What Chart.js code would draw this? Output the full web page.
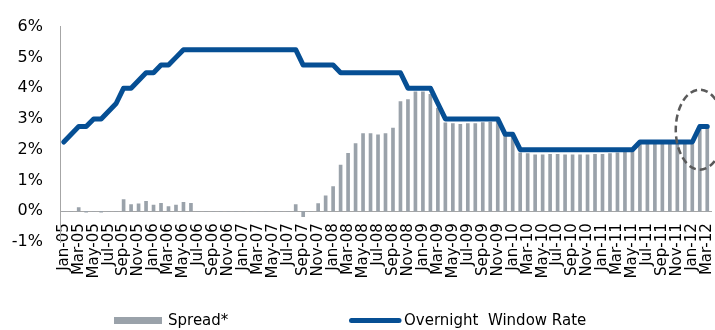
<!DOCTYPE html>
<html>
<head>
<meta charset="utf-8">
<script src="https://cdn.jsdelivr.net/npm/chart.js@4/dist/chart.umd.min.js"></script>
<style>
  html, body { margin: 0; padding: 0; background: #ffffff; }
  #wrap { width: 715px; height: 330px; }
</style>
</head>
<body>
<div id="wrap"><canvas id="chart" width="715" height="330"></canvas></div>
<script>
// Monthly categories, Jan-05 .. Mar-12
const months = [
  'Jan-05','Feb-05','Mar-05','Apr-05','May-05','Jun-05','Jul-05','Aug-05','Sep-05','Oct-05','Nov-05','Dec-05',
  'Jan-06','Feb-06','Mar-06','Apr-06','May-06','Jun-06','Jul-06','Aug-06','Sep-06','Oct-06','Nov-06','Dec-06',
  'Jan-07','Feb-07','Mar-07','Apr-07','May-07','Jun-07','Jul-07','Aug-07','Sep-07','Oct-07','Nov-07','Dec-07',
  'Jan-08','Feb-08','Mar-08','Apr-08','May-08','Jun-08','Jul-08','Aug-08','Sep-08','Oct-08','Nov-08','Dec-08',
  'Jan-09','Feb-09','Mar-09','Apr-09','May-09','Jun-09','Jul-09','Aug-09','Sep-09','Oct-09','Nov-09','Dec-09',
  'Jan-10','Feb-10','Mar-10','Apr-10','May-10','Jun-10','Jul-10','Aug-10','Sep-10','Oct-10','Nov-10','Dec-10',
  'Jan-11','Feb-11','Mar-11','Apr-11','May-11','Jun-11','Jul-11','Aug-11','Sep-11','Oct-11','Nov-11','Dec-11',
  'Jan-12','Feb-12','Mar-12'
];

// Spread*, percent
const spread = [
  0, 0, 0.12, -0.03, 0, -0.03, 0, 0, 0.38, 0.22, 0.24, 0.32,
  0.20, 0.26, 0.15, 0.20, 0.29, 0.26, 0, 0, 0, 0, 0, 0,
  0, 0, 0, 0, 0, 0, 0, 0.22, -0.18, 0, 0.25, 0.50,
  0.80, 1.50, 1.88, 2.20, 2.52, 2.52, 2.48, 2.52, 2.70, 3.56, 3.63, 3.88,
  3.88, 3.80, 3.35, 2.87, 2.85, 2.82, 2.85, 2.85, 2.88, 2.90, 2.92, 2.46,
  2.42, 1.90, 1.87, 1.83, 1.83, 1.85, 1.85, 1.83, 1.83, 1.83, 1.83, 1.85,
  1.85, 1.87, 1.90, 1.93, 1.95, 2.19, 2.19, 2.19, 2.19, 2.19, 2.19, 2.19,
  2.19, 2.69, 2.69
];

// Overnight Window Rate, percent
const overnightRate = [
  2.25, 2.50, 2.75, 2.75, 3.00, 3.00, 3.25, 3.50, 4.00, 4.00, 4.25, 4.50,
  4.50, 4.75, 4.75, 5.00, 5.25, 5.25, 5.25, 5.25, 5.25, 5.25, 5.25, 5.25,
  5.25, 5.25, 5.25, 5.25, 5.25, 5.25, 5.25, 5.25, 4.75, 4.75, 4.75, 4.75,
  4.75, 4.50, 4.50, 4.50, 4.50, 4.50, 4.50, 4.50, 4.50, 4.50, 4.00, 4.00,
  4.00, 4.00, 3.50, 3.00, 3.00, 3.00, 3.00, 3.00, 3.00, 3.00, 3.00, 2.50,
  2.50, 2.00, 2.00, 2.00, 2.00, 2.00, 2.00, 2.00, 2.00, 2.00, 2.00, 2.00,
  2.00, 2.00, 2.00, 2.00, 2.00, 2.25, 2.25, 2.25, 2.25, 2.25, 2.25, 2.25,
  2.25, 2.75, 2.75
];

// Value axis range and step, percent
const yRange = [-1, 6];
const yStep = 1;

// Series names
const seriesNames = ['Spread*', 'Overnight  Window Rate'];

// Highlighted point (month, value) circled with a dashed ring
const highlightMonth = 'Feb-12';
const highlightValue = 2.65;

const BAR_COLOR = '#9aa2aa';
const LINE_COLOR = '#064f94';
const AXIS_COLOR = '#a6a6a6';
const FONT = 'DejaVu Sans';

Chart.defaults.font.family = FONT;
Chart.defaults.color = '#000000';

// Dashed ellipse around the latest rate move
const ringPlugin = {
  id: 'ring',
  afterDraw(chart, args, opts) {
    const xs = chart.scales.x, ys = chart.scales.y;
    const cx = xs.getPixelForValue(months.indexOf(opts.month));
    const cy = ys.getPixelForValue(opts.value);
    const ctx = chart.ctx;
    ctx.save();
    ctx.beginPath();
    ctx.ellipse(cx, cy, opts.rx, opts.ry, 0, 0, Math.PI * 2);
    ctx.setLineDash(opts.dash);
    ctx.lineWidth = opts.width;
    ctx.strokeStyle = opts.color;
    ctx.stroke();
    ctx.restore();
  }
};

// Key drawn beneath the axis labels
const keyPlugin = {
  id: 'key',
  afterDraw(chart, args, opts) {
    const ctx = chart.ctx;
    const y = opts.y;
    ctx.save();
    ctx.font = '15px "' + FONT + '"';
    ctx.textBaseline = 'middle';
    ctx.textAlign = 'left';

    // bar series swatch
    ctx.fillStyle = chart.data.datasets[0].backgroundColor;
    ctx.fillRect(opts.barX, y - 3.5, 48, 7);
    ctx.fillStyle = '#000000';
    ctx.fillText(chart.data.datasets[0].label, opts.barX + 54, y + 0.5);

    // line series swatch
    ctx.beginPath();
    ctx.moveTo(opts.lineX + 2.5, y);
    ctx.lineTo(opts.lineX + 50, y);
    ctx.lineWidth = 5;
    ctx.lineCap = 'round';
    ctx.strokeStyle = chart.data.datasets[1].borderColor;
    ctx.stroke();
    ctx.fillText(chart.data.datasets[1].label, opts.lineX + 55, y + 0.5);
    ctx.restore();
  }
};

new Chart(document.getElementById('chart'), {
  type: 'bar',
  data: {
    labels: months,
    datasets: [
      {
        type: 'bar',
        label: seriesNames[0],
        data: spread,
        backgroundColor: BAR_COLOR,
        barThickness: 3,
        order: 2
      },
      {
        type: 'line',
        label: seriesNames[1],
        data: overnightRate,
        borderColor: LINE_COLOR,
        backgroundColor: LINE_COLOR,
        borderWidth: 5,
        pointRadius: 0,
        tension: 0,
        borderCapStyle: 'round',
        borderJoinStyle: 'round',
        fill: false,
        order: 1
      }
    ]
  },
  options: {
    responsive: false,
    animation: false,
    devicePixelRatio: 1,
    layout: { padding: { top: 20, right: 4, left: 0, bottom: 88 } },
    plugins: {
      legend: { display: false },
      tooltip: { enabled: false },
      ring: { month: highlightMonth, value: highlightValue, rx: 24, ry: 40, dash: [7, 4], width: 2.5, color: '#5a5a5a' },
      key: { y: 320.5, barX: 114, lineX: 349 }
    },
    scales: {
      x: {
        position: { y: 0 },
        offset: true,
        grid: { display: false, drawTicks: false },
        border: { display: true, color: AXIS_COLOR, width: 1 },
        ticks: {
          autoSkip: false,
          minRotation: 90,
          maxRotation: 90,
          padding: 12,
          font: { size: 15 },
          color: '#000000',
          callback: (v, i) => (i % 2 === 0 ? months[i] : '')
        },
        afterFit(scale) {
          scale.paddingLeft = 0;
          scale.paddingRight = 0;
          scale.paddingTop = 0;
          scale.paddingBottom = 0;
        }
      },
      y: {
        min: yRange[0],
        max: yRange[1],
        grid: { display: false, drawTicks: false },
        border: { display: true, color: AXIS_COLOR, width: 1 },
        ticks: {
          stepSize: yStep,
          padding: 17,
          font: { size: 16 },
          color: '#000000',
          callback: v => v + '%'
        },
        afterFit(scale) {
          scale.width = 60;
        }
      }
    }
  },
  plugins: [ringPlugin, keyPlugin]
});
</script>
</body>
</html>
